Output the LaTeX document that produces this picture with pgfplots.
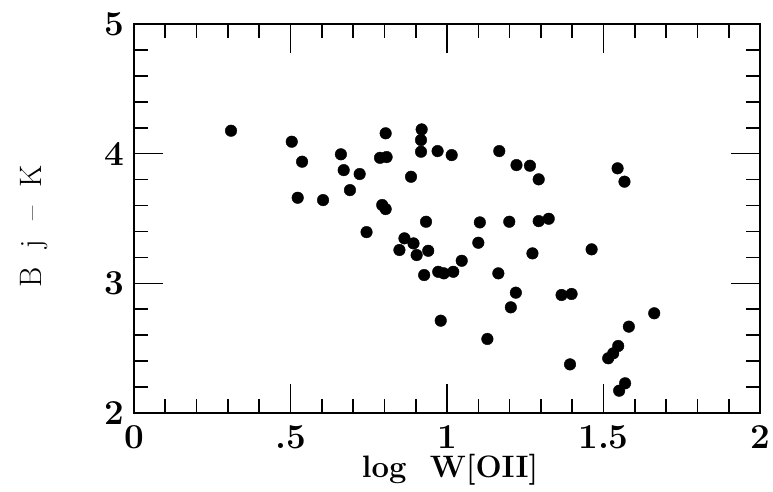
\documentclass[border=0pt]{standalone}
\usepackage{fontspec}
\usepackage{pgfplots}
\pgfplotsset{compat=1.18}
\begin{document}
\begin{tikzpicture}
\useasboundingbox (-134pt,-78pt) rectangle (639pt,413pt);
\begin{axis}[
  scale only axis,
  width=626pt, height=389pt,
  xmin=0, xmax=2, ymin=2, ymax=5,
  axis line style={line width=1.8pt},
  tick align=inside,
  xtick={0,0.5,1,1.5,2},
  xticklabels={0,.5,1,1.5,2},
  ytick={2,3,4,5},
  yticklabels={2,3,4,5},
  minor x tick num=4,
  minor y tick num=4,
  major tick length=29pt,
  minor tick length=14pt,
  every tick/.style={line width=1.6pt, black},
  ticklabel style={font=\fontsize{35}{40}\selectfont\bfseries},
  xticklabel style={yshift=-9pt},
  yticklabel style={xshift=-6pt},
  xlabel={log\ \ W[OII]},
  xlabel style={font=\fontsize{31}{36}\selectfont\bfseries, at={(axis description cs:0.505,-0.165)}, anchor=base},
  ylabel={B\ \ j\ \ \textendash\ \ K},
  ylabel style={font=\fontsize{31}{36}\selectfont, at={(axis description cs:-0.148,0.48)}, anchor=base, rotate=0},
]
\addplot[only marks, mark=*, mark size=5.8pt, black] coordinates {
(0.310,4.177)
(0.504,4.092)
(0.537,3.938)
(0.661,3.995)
(0.804,4.157)
(0.919,4.187)
(0.917,4.105)
(0.917,4.015)
(0.970,4.020)
(1.015,3.989)
(0.786,3.968)
(0.807,3.974)
(0.670,3.873)
(0.721,3.843)
(0.885,3.822)
(0.690,3.719)
(0.523,3.660)
(0.604,3.642)
(0.793,3.604)
(0.804,3.573)
(0.933,3.475)
(0.743,3.395)
(1.167,4.020)
(1.222,3.912)
(1.265,3.907)
(1.293,3.802)
(1.545,3.887)
(1.567,3.784)
(1.105,3.470)
(1.199,3.475)
(1.293,3.480)
(1.325,3.498)
(0.864,3.347)
(0.893,3.308)
(0.848,3.257)
(0.903,3.218)
(0.940,3.251)
(0.927,3.064)
(0.972,3.089)
(0.990,3.077)
(1.020,3.089)
(0.980,2.712)
(1.047,3.174)
(1.100,3.313)
(1.462,3.262)
(1.273,3.231)
(1.164,3.077)
(1.220,2.928)
(1.204,2.815)
(1.366,2.910)
(1.398,2.918)
(1.129,2.571)
(1.662,2.769)
(1.581,2.666)
(1.547,2.517)
(1.531,2.460)
(1.515,2.422)
(1.393,2.375)
(1.569,2.229)
(1.550,2.172)
};
\end{axis}
\end{tikzpicture}
\end{document}
